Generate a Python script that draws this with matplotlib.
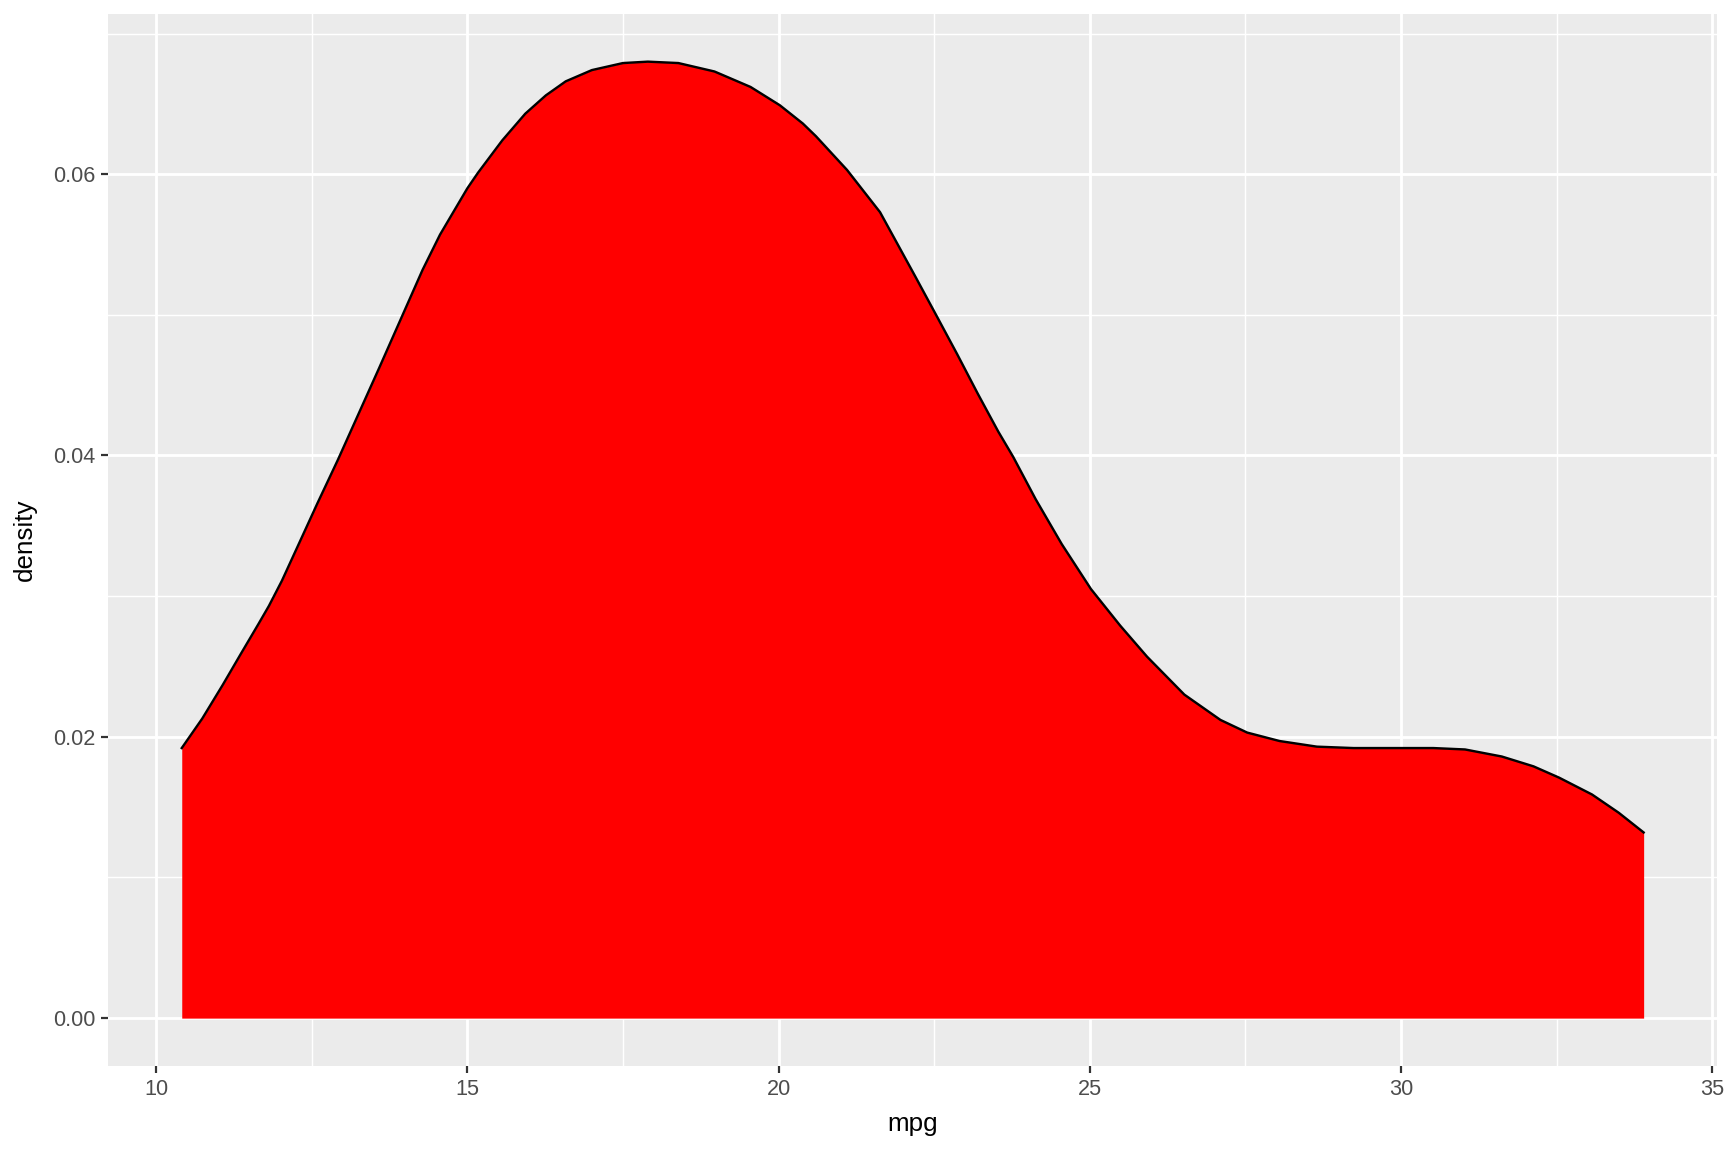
import matplotlib
matplotlib.use("Agg")
import matplotlib.pyplot as plt

plt.rcParams['font.family'] = ['Liberation Sans', 'DejaVu Sans']

# density curve of mpg
mpg = [10.41, 10.74, 11.07, 11.36, 11.64, 11.81, 12.02, 12.30, 12.59, 12.92,
       13.58, 13.94, 14.28, 14.56, 15.00, 15.17, 15.56, 15.93, 16.26, 16.58,
       17.00, 17.50, 17.90, 18.39, 18.97, 19.55, 20.02, 20.39, 20.60, 21.10,
       21.63, 22.20, 22.53, 22.87, 23.20, 23.53, 23.77, 24.13, 24.55, 25.02,
       25.49, 25.92, 26.52, 27.10, 27.53, 28.05, 28.65, 29.24, 30.03, 30.52,
       31.03, 31.62, 32.13, 32.54, 33.07, 33.50, 33.90]
density = [0.0192, 0.0213, 0.0237, 0.0259, 0.0280, 0.0293, 0.0311, 0.0338, 0.0366, 0.0397,
           0.0462, 0.0498, 0.0532, 0.0557, 0.0590, 0.0601, 0.0624, 0.0643, 0.0656, 0.0666,
           0.0674, 0.0679, 0.0680, 0.0679, 0.0673, 0.0662, 0.0649, 0.0636, 0.0627, 0.0603,
           0.0573, 0.0527, 0.0500, 0.0472, 0.0444, 0.0417, 0.0399, 0.0369, 0.0337, 0.0305,
           0.0279, 0.0257, 0.0230, 0.0212, 0.0203, 0.0197, 0.0193, 0.0192, 0.0192, 0.0192,
           0.0191, 0.0186, 0.0179, 0.0171, 0.0159, 0.0146, 0.0132]

x_ticks = [10, 15, 20, 25, 30, 35]
y_ticks = [0.00, 0.02, 0.04, 0.06]
y_labels = ["0.00", "0.02", "0.04", "0.06"]

fig = plt.figure(figsize=(12, 8), dpi=144)
ax = fig.add_axes([0.0625, 0.0747, 0.931, 0.9133])
ax.set_facecolor('#EBEBEB')

# grid like ggplot's theme_grey
for v in [12.5, 17.5, 22.5, 27.5, 32.5]:
    ax.axvline(v, color='white', lw=0.71, zorder=0)
for v in [0.01, 0.03, 0.05, 0.07]:
    ax.axhline(v, color='white', lw=0.71, zorder=0)
for v in x_ticks:
    ax.axvline(v, color='white', lw=1.42, zorder=0)
for v in y_ticks:
    ax.axhline(v, color='white', lw=1.42, zorder=0)

ax.fill_between(mpg, 0, density, color='red', lw=0, zorder=2)
ax.plot(mpg, density, color='black', lw=1.2, zorder=3, solid_joinstyle='round')

ax.set_xlim(9.225, 35.075)
ax.set_ylim(-0.0034, 0.0714)
ax.set_xticks(x_ticks)
ax.set_yticks(y_ticks)
ax.set_yticklabels(y_labels)
for s in ax.spines.values():
    s.set_visible(False)
ax.tick_params(axis='both', length=3.5, width=1.1, color='#333333',
               labelcolor='#4D4D4D', labelsize=10.8, pad=3)

ax.set_xlabel('mpg', fontsize=13, color='black', labelpad=6)
ax.set_ylabel('density', fontsize=13, color='black', labelpad=8)

fig.savefig('out.png', dpi=144, facecolor='white')
